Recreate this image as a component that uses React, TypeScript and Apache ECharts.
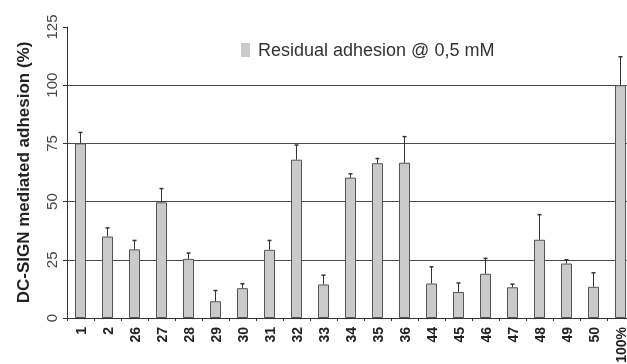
import React, { useEffect, useRef } from "react";
import * as echarts from "echarts";

const categories = ["1", "2", "26", "27", "28", "29", "30", "31", "32", "33", "34", "35", "36", "44", "45", "46", "47", "48", "49", "50", "100%"];
const adhesion = [75, 35, 29.5, 49.7, 25.4, 7.2, 12.8, 29.3, 68, 14.4, 60.3, 66.5, 66.7, 14.8, 11.2, 19, 13.2, 33.6, 23.4, 13.4, 100];
const errors = [4.7, 3.7, 3.8, 5.9, 2.5, 4.6, 1.9, 4, 6.3, 4, 1.6, 2, 11.2, 7.2, 3.8, 6.6, 1.3, 10.8, 1.6, 6, 12.2];
const seriesName = "Residual adhesion @ 0,5 mM";
const yTitle = "DC-SIGN mediated adhesion (%)";

const FONT = "'Liberation Sans', Arial, sans-serif";

export default function App() {
  const ref = useRef<HTMLDivElement>(null);
  useEffect(() => {
    if (!ref.current) return;
    const chart = echarts.init(ref.current, null, { renderer: "svg" });
    const errData = adhesion.map((v, i) => [i, v, errors[i]]);
    chart.setOption({
      animation: false,
      textStyle: { fontFamily: FONT },
      grid: { left: 67, top: 27, bottom: 46, right: -7, outerBoundsMode: "none" },
      legend: {
        left: 241,
        top: 41,
        padding: 0,
        icon: "rect",
        itemWidth: 9,
        itemHeight: 14,
        textStyle: { fontSize: 18, color: "#333", fontFamily: FONT, padding: [0, 0, 0, 3] },
        data: [{ name: seriesName, itemStyle: { color: "#cacaca", borderWidth: 0 } }],
      },
      xAxis: {
        type: "category",
        data: categories,
        axisLine: { show: true, lineStyle: { color: "#333", width: 1 } },
        axisTick: { show: true, alignWithLabel: false, length: 3, lineStyle: { color: "#333" } },
        axisLabel: { interval: 0, rotate: 90, fontSize: 14, fontWeight: "bold", color: "#222", margin: 9, fontFamily: FONT },
        splitLine: { show: false },
      },
      yAxis: {
        type: "value",
        min: 0,
        max: 125,
        interval: 25,
        name: yTitle,
        nameLocation: "middle",
        nameRotate: 90,
        nameGap: 35,
        nameTextStyle: { fontSize: 17, fontWeight: "bold", color: "#222", fontFamily: FONT },
        axisLine: { show: true, lineStyle: { color: "#333", width: 1 } },
        axisTick: { show: true, length: 4, lineStyle: { color: "#333" } },
        axisLabel: { rotate: 90, fontSize: 15, color: "#444", margin: 8, fontFamily: FONT },
        splitLine: { show: true, showMaxLine: false, showMinLine: false, lineStyle: { color: "#4a4a4a", width: 1.2 } },
      },
      series: [
        {
          name: seriesName,
          type: "bar",
          data: adhesion,
          barWidth: 11,
          z: 2,
          itemStyle: { color: "#cacaca", borderColor: "#555", borderWidth: 1 },
        },
        {
          name: "err",
          type: "custom",
          data: errData,
          encode: { x: 0, y: 1 },
          z: 3,
          renderItem: (params: any, api: any) => {
            const x = api.value(0);
            const v = api.value(1);
            const e = api.value(2);
            const p0 = api.coord([x, v]);
            const p1 = api.coord([x, v + e]);
            return {
              type: "group",
              children: [
                { type: "line", shape: { x1: p0[0], y1: p0[1], x2: p1[0], y2: p1[1] }, style: { stroke: "#333", lineWidth: 1 } },
                { type: "line", shape: { x1: p1[0] - 2, y1: p1[1], x2: p1[0] + 2, y2: p1[1] }, style: { stroke: "#333", lineWidth: 1.5 } },
              ],
            };
          },
        },
      ],
    });
    return () => chart.dispose();
  }, []);
  return <div ref={ref} style={{ position: "fixed", left: 0, top: 0, width: 627, height: 364 }} />;
}
